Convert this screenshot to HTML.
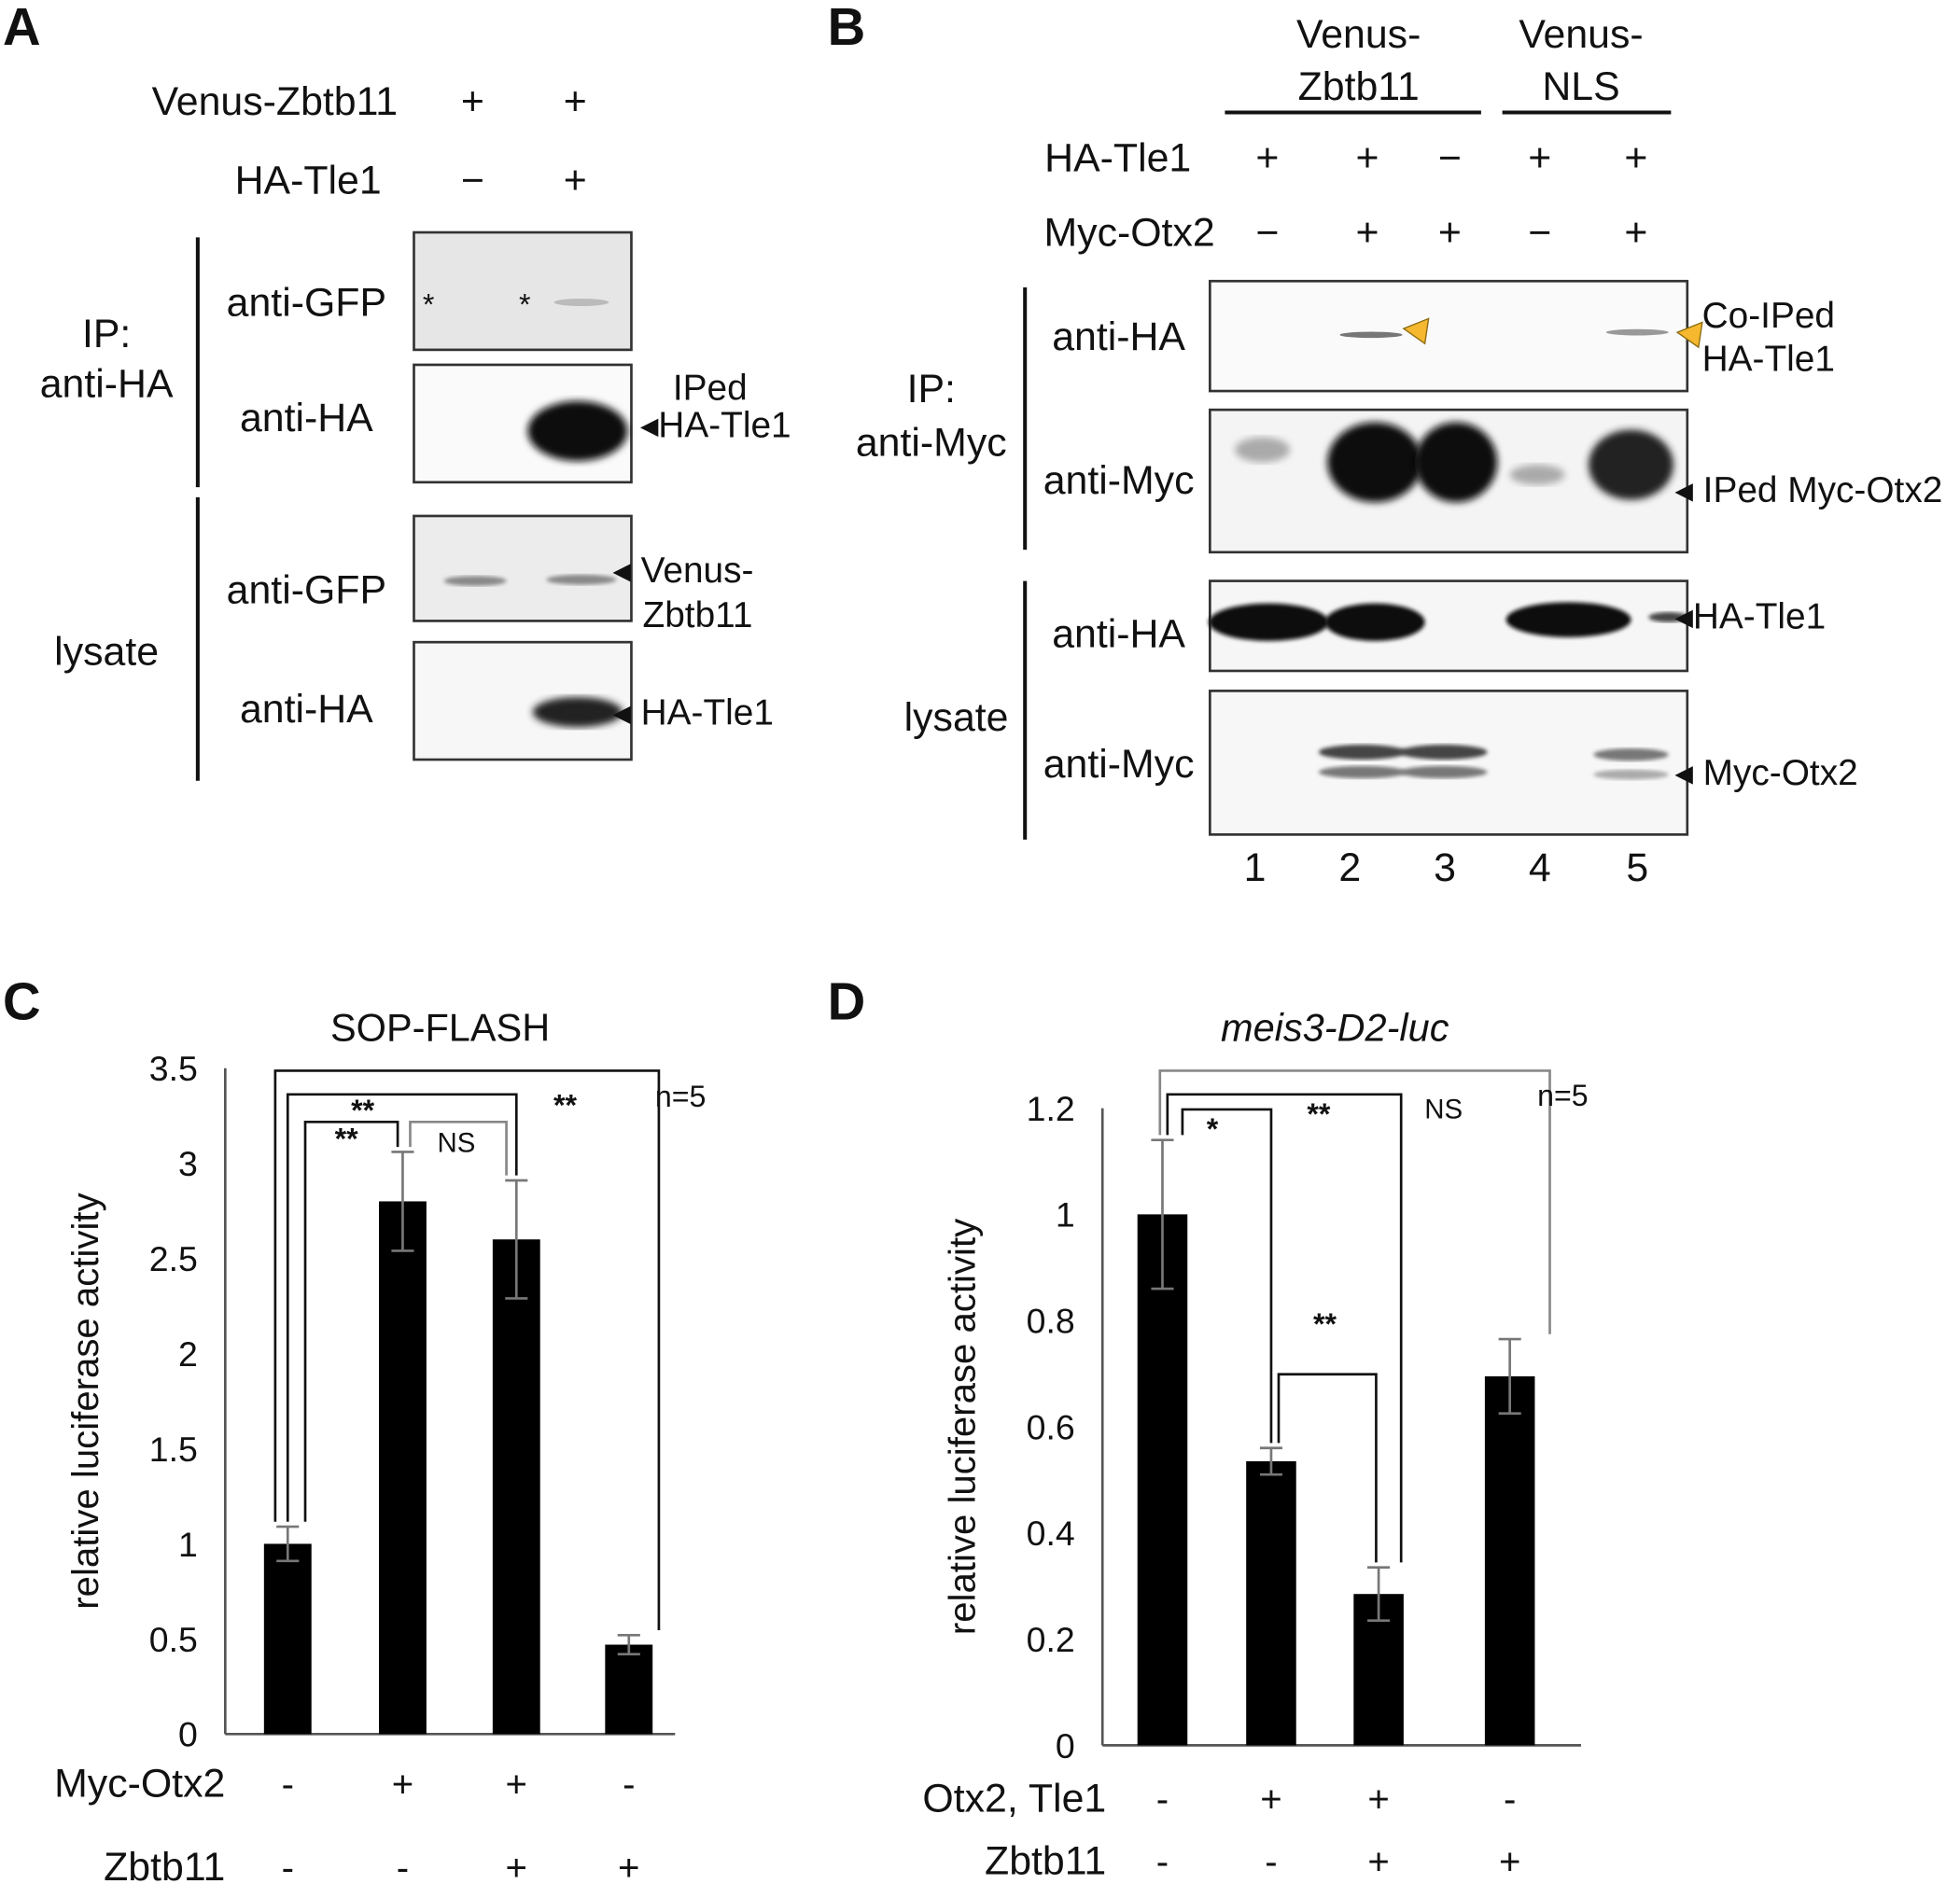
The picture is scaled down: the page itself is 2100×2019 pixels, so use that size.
<!DOCTYPE html>
<html><head><meta charset="utf-8"><style>
html,body{margin:0;padding:0;background:#fff}
svg{display:block}
text{font-family:"Liberation Sans",Arial,sans-serif;fill:#111}
</style></head><body>
<svg id="fig" width="2100" height="2019" viewBox="0 0 1568 1508" xmlns="http://www.w3.org/2000/svg">
<rect width="1568" height="1508" fill="#fff"/>
<defs><filter id="blur"><feGaussianBlur stdDeviation="3"/></filter><filter id="blur2"><feGaussianBlur stdDeviation="1.5"/></filter></defs>

<!-- Panel A -->
<g font-size="32">
<text x="2" y="36" font-size="42" font-weight="bold">A</text>
<text x="318" y="92" text-anchor="end">Venus-Zbtb11</text>
<text x="378" y="92" text-anchor="middle">+</text><text x="460" y="92" text-anchor="middle">+</text>
<text x="305" y="155" text-anchor="end">HA-Tle1</text>
<text x="378" y="155" text-anchor="middle">−</text><text x="460" y="155" text-anchor="middle">+</text>
<line x1="158" y1="190" x2="158" y2="390" stroke="#111" stroke-width="3"/>
<line x1="158" y1="398" x2="158" y2="625" stroke="#111" stroke-width="3"/>
<text x="85" y="278" text-anchor="middle">IP:</text><text x="85" y="318" text-anchor="middle">anti-HA</text>
<text x="85" y="532" text-anchor="middle">lysate</text>
<text x="245" y="253" text-anchor="middle">anti-GFP</text>
<text x="245" y="345" text-anchor="middle">anti-HA</text>
<text x="245" y="483" text-anchor="middle">anti-GFP</text>
<text x="245" y="578" text-anchor="middle">anti-HA</text>
<rect x="331" y="186" width="174" height="94" fill="#e6e6e6" stroke="#333" stroke-width="2"/>
<rect x="331" y="292" width="174" height="94" fill="#fafafa" stroke="#333" stroke-width="2"/>
<rect x="331" y="413" width="174" height="84" fill="#ececec" stroke="#333" stroke-width="2"/>
<rect x="331" y="514" width="174" height="94" fill="#f7f7f7" stroke="#333" stroke-width="2"/>
<text x="338" y="252" font-size="24">*</text><text x="415" y="252" font-size="24">*</text>
<ellipse cx="465" cy="242" rx="22" ry="3" fill="#bbb"/>
<ellipse cx="462" cy="345" rx="40" ry="24" fill="#111" filter="url(#blur)"/>
<ellipse cx="380" cy="465" rx="25" ry="4" fill="#888" filter="url(#blur2)"/>
<ellipse cx="465" cy="464" rx="28" ry="4" fill="#888" filter="url(#blur2)"/>
<ellipse cx="462" cy="570" rx="36" ry="12" fill="#222" filter="url(#blur)"/>
<text x="568" y="320" text-anchor="middle" font-size="29">IPed</text>
<text x="512" y="350" font-size="29">◂HA-Tle1</text>
<text x="490" y="466" font-size="29">◂ Venus-</text><text x="514" y="502" font-size="29">Zbtb11</text>
<text x="490" y="580" font-size="29">◂ HA-Tle1</text>
</g>

<!-- Panel B -->
<g font-size="32">
<text x="662" y="36" font-size="42" font-weight="bold">B</text>
<text x="1087" y="38" text-anchor="middle">Venus-</text><text x="1087" y="80" text-anchor="middle">Zbtb11</text>
<line x1="980" y1="90" x2="1185" y2="90" stroke="#111" stroke-width="3"/>
<text x="1265" y="38" text-anchor="middle">Venus-</text><text x="1265" y="80" text-anchor="middle">NLS</text>
<line x1="1202" y1="90" x2="1337" y2="90" stroke="#111" stroke-width="3"/>
<text x="953" y="137" text-anchor="end">HA-Tle1</text>
<text x="1014" y="137" text-anchor="middle">+</text><text x="1094" y="137" text-anchor="middle">+</text><text x="1160" y="137" text-anchor="middle">−</text><text x="1232" y="137" text-anchor="middle">+</text><text x="1309" y="137" text-anchor="middle">+</text>
<text x="972" y="197" text-anchor="end">Myc-Otx2</text>
<text x="1014" y="197" text-anchor="middle">−</text><text x="1094" y="197" text-anchor="middle">+</text><text x="1160" y="197" text-anchor="middle">+</text><text x="1232" y="197" text-anchor="middle">−</text><text x="1309" y="197" text-anchor="middle">+</text>
<line x1="820" y1="230" x2="820" y2="440" stroke="#111" stroke-width="3"/>
<line x1="820" y1="465" x2="820" y2="672" stroke="#111" stroke-width="3"/>
<text x="745" y="322" text-anchor="middle">IP:</text><text x="745" y="365" text-anchor="middle">anti-Myc</text>
<text x="765" y="585" text-anchor="middle">lysate</text>
<text x="895" y="280" text-anchor="middle">anti-HA</text>
<text x="895" y="395" text-anchor="middle">anti-Myc</text>
<text x="895" y="518" text-anchor="middle">anti-HA</text>
<text x="895" y="622" text-anchor="middle">anti-Myc</text>
<rect x="968" y="225" width="382" height="88" fill="#fafafa" stroke="#333" stroke-width="2"/>
<rect x="968" y="328" width="382" height="114" fill="#f4f4f4" stroke="#333" stroke-width="2"/>
<rect x="968" y="465" width="382" height="72" fill="#f6f6f6" stroke="#333" stroke-width="2"/>
<rect x="968" y="553" width="382" height="115" fill="#f7f7f7" stroke="#333" stroke-width="2"/>
<ellipse cx="1097" cy="268" rx="25" ry="2.5" fill="#777"/>
<ellipse cx="1310" cy="266" rx="25" ry="2.5" fill="#999"/>
<polygon points="1123,263 1143,255 1140,275" fill="#f5b82e" stroke="#8a6a10"/>
<polygon points="1342,266 1362,258 1359,278" fill="#f5b82e" stroke="#8a6a10"/>
<ellipse cx="1010" cy="360" rx="22" ry="10" fill="#aaa" filter="url(#blur)"/>
<ellipse cx="1100" cy="370" rx="38" ry="32" fill="#111" filter="url(#blur)"/>
<ellipse cx="1165" cy="370" rx="33" ry="32" fill="#111" filter="url(#blur)"/>
<ellipse cx="1230" cy="380" rx="22" ry="8" fill="#aaa" filter="url(#blur)"/>
<ellipse cx="1305" cy="372" rx="34" ry="28" fill="#222" filter="url(#blur)"/>
<ellipse cx="1015" cy="498" rx="48" ry="15" fill="#111" filter="url(#blur2)"/>
<ellipse cx="1100" cy="498" rx="40" ry="15" fill="#111" filter="url(#blur2)"/>
<ellipse cx="1255" cy="496" rx="50" ry="14" fill="#111" filter="url(#blur2)"/>
<ellipse cx="1335" cy="494" rx="16" ry="4" fill="#444" filter="url(#blur2)"/>
<ellipse cx="1090" cy="602" rx="35" ry="6" fill="#444" filter="url(#blur2)"/>
<ellipse cx="1090" cy="618" rx="35" ry="5" fill="#777" filter="url(#blur2)"/>
<ellipse cx="1155" cy="602" rx="35" ry="6" fill="#444" filter="url(#blur2)"/>
<ellipse cx="1155" cy="618" rx="35" ry="5" fill="#777" filter="url(#blur2)"/>
<ellipse cx="1305" cy="604" rx="30" ry="5" fill="#777" filter="url(#blur2)"/>
<ellipse cx="1305" cy="620" rx="30" ry="4" fill="#aaa" filter="url(#blur2)"/>
<text x="1415" y="262" text-anchor="middle" font-size="29">Co-IPed</text>
<text x="1415" y="297" text-anchor="middle" font-size="29">HA-Tle1</text>
<text x="1340" y="402" font-size="29">◂ IPed Myc-Otx2</text>
<text x="1340" y="503" font-size="29">◂HA-Tle1</text>
<text x="1340" y="628" font-size="29">◂ Myc-Otx2</text>
<text x="1004" y="705" text-anchor="middle">1</text><text x="1080" y="705" text-anchor="middle">2</text><text x="1156" y="705" text-anchor="middle">3</text><text x="1232" y="705" text-anchor="middle">4</text><text x="1310" y="705" text-anchor="middle">5</text>
</g>

<g id="chartC"></g>
<g id="chartD"></g>
</svg>
<script>
const cCategories = ["1","2","3","4"];
const cValues = [1.0, 2.8, 2.6, 0.47];
const cErrors = [0.09, 0.26, 0.31, 0.05];
const cTicks = ["0","0.5","1","1.5","2","2.5","3","3.5"];
const cTickVals = [0,0.5,1,1.5,2,2.5,3,3.5];
const cRow1 = ["-","+","+","-"];
const cRow2 = ["-","-","+","+"];

const dCategories = ["1","2","3","4"];
const dValues = [1.0, 0.535, 0.285, 0.695];
const dErrors = [0.14, 0.025, 0.05, 0.07];
const dTicks = ["0","0.2","0.4","0.6","0.8","1","1.2"];
const dTickVals = [0,0.2,0.4,0.6,0.8,1,1.2];
const dRow1 = ["-","+","+","-"];
const dRow2 = ["-","-","+","+"];

const NS = "http://www.w3.org/2000/svg";
function mk(parent, tag, attrs, txt){
  const e = document.createElementNS(NS, tag);
  for (const k in attrs) e.setAttribute(k, attrs[k]);
  if (txt !== undefined) e.textContent = txt;
  parent.appendChild(e);
  return e;
}

function drawChart(g, cfg){
  const y = v => cfg.y0 - (v / cfg.vmax) * (cfg.y0 - cfg.ytop);
  const x = i => cfg.centers[i];
  let t;
  t = mk(g,"text",{x:cfg.titleX,y:cfg.titleY,"text-anchor":"middle","font-size":31,"font-style":cfg.italic?"italic":"normal"},cfg.title);
  
  
  t = mk(g,"text",{x:cfg.labelX,y:cfg.labelY,"font-size":42,"font-weight":"bold"},cfg.label);
  
  
  let ax = mk(g,"line",{x1:cfg.ax,y1:cfg.ytop,x2:cfg.ax,y2:cfg.y0,stroke:"#555","stroke-width":2});
  
  
  ax = mk(g,"line",{x1:cfg.ax,y1:cfg.y0,x2:cfg.axEnd,y2:cfg.y0,stroke:"#555","stroke-width":2});
  
  
  cfg.tickVals.forEach((v,i)=>{
    const tl = mk(g,"text",{x:cfg.ax-22,y:y(v)+10,"text-anchor":"end","font-size":28},cfg.ticks[i]);
    
    
  });
  const yl = mk(g,"text",{x:0,y:0,"text-anchor":"middle","font-size":30,transform:`translate(${cfg.ylX},${(cfg.ytop+cfg.y0)/2}) rotate(-90)`},"relative luciferase activity");
  
  
  cfg.values.forEach((v,i)=>{
    const b = mk(g,"rect",{x:x(i)-cfg.bw/2,y:y(v),width:cfg.bw,height:cfg.y0-y(v),fill:"#000"});
    
    
    const e = cfg.errors[i];
    const eb = mk(g,"path",{d:`M${x(i)} ${y(v+e)}V${y(v-e)}M${x(i)-9} ${y(v+e)}H${x(i)+9}M${x(i)-9} ${y(v-e)}H${x(i)+9}`,stroke:"#777","stroke-width":2,fill:"none"});
    
    
    let r = mk(g,"text",{x:x(i),y:cfg.row1Y,"text-anchor":"middle","font-size":30},cfg.row1[i]);
    
    
    r = mk(g,"text",{x:x(i),y:cfg.row2Y,"text-anchor":"middle","font-size":30},cfg.row2[i]);
    
    
  });
  let rl = mk(g,"text",{x:cfg.rowLX,y:cfg.row1Y,"text-anchor":"end","font-size":32},cfg.row1Label);
  
  
  rl = mk(g,"text",{x:cfg.rowLX,y:cfg.row2Y,"text-anchor":"end","font-size":32},cfg.row2Label);
  
  
  cfg.brackets.forEach(bk=>{
    const [i,j,ly,col,xo1,xo2] = bk;
    const x1 = x(i)+xo1, x2 = x(j)+xo2;
    const p = mk(g,"path",{d:`M${x1} ${y(cfg.values[i]+cfg.errors[i])-4}V${ly}H${x2}V${y(cfg.values[j]+cfg.errors[j])-4}`,stroke:col,"stroke-width":2,fill:"none"});
    
    
  });
  cfg.marks.forEach(m=>{
    const s = mk(g,"text",{x:m[0],y:m[1],"text-anchor":"middle","font-size":m[3]||24,"font-weight":m[2]==="NS"?"normal":"bold",fill:m[2]==="NS"?"#777":"#111"},m[2]);
    
    
  });
  const n = mk(g,"text",{x:cfg.nX,y:cfg.nY,"font-size":24},"n=5");
  
  
}

drawChart(document.getElementById("chartC"),{
  title:"SOP-FLASH",titleX:352,titleY:833,italic:false,label:"C",labelX:2,labelY:816,
  y0:1388,ytop:855,vmax:3.5,ax:180,axEnd:540,centers:[230,322,413,503],bw:38,
  ticks:cTicks,tickVals:cTickVals,values:cValues,errors:cErrors,cats:cCategories,ylX:78,
  row1:cRow1,row2:cRow2,row1Y:1438,row2Y:1505,row1Label:"Myc-Otx2",row2Label:"Zbtb11",rowLX:180,
  brackets:[[0,3,857,"#111",-10,24],[0,2,876,"#111",0,0],[0,1,898,"#111",14,-4],[1,2,898,"#888",6,-8]],
  marks:[[290,897,"**"],[277,920,"**"],[365,922,"NS",22],[452,893,"**"]],nX:524,nY:886
});
drawChart(document.getElementById("chartD"),{
  title:"meis3-D2-luc",titleX:1068,titleY:833,italic:true,label:"D",labelX:662,labelY:816,
  y0:1397,ytop:887,vmax:1.2,ax:882,axEnd:1265,centers:[930,1017,1103,1208],bw:40,
  ticks:dTicks,tickVals:dTickVals,values:dValues,errors:dErrors,cats:dCategories,ylX:780,
  row1:dRow1,row2:dRow2,row1Y:1450,row2Y:1500,row1Label:"Otx2, Tle1",row2Label:"Zbtb11",rowLX:885,
  brackets:[[0,3,857,"#888",-2,32],[0,2,876,"#111",4,18],[0,1,888,"#111",16,0],[1,2,1100,"#111",6,-2]],
  marks:[[970,912,"*"],[1055,900,"**"],[1155,895,"NS",22],[1060,1068,"**"]],nX:1230,nY:885
});
</script>
</body></html>
